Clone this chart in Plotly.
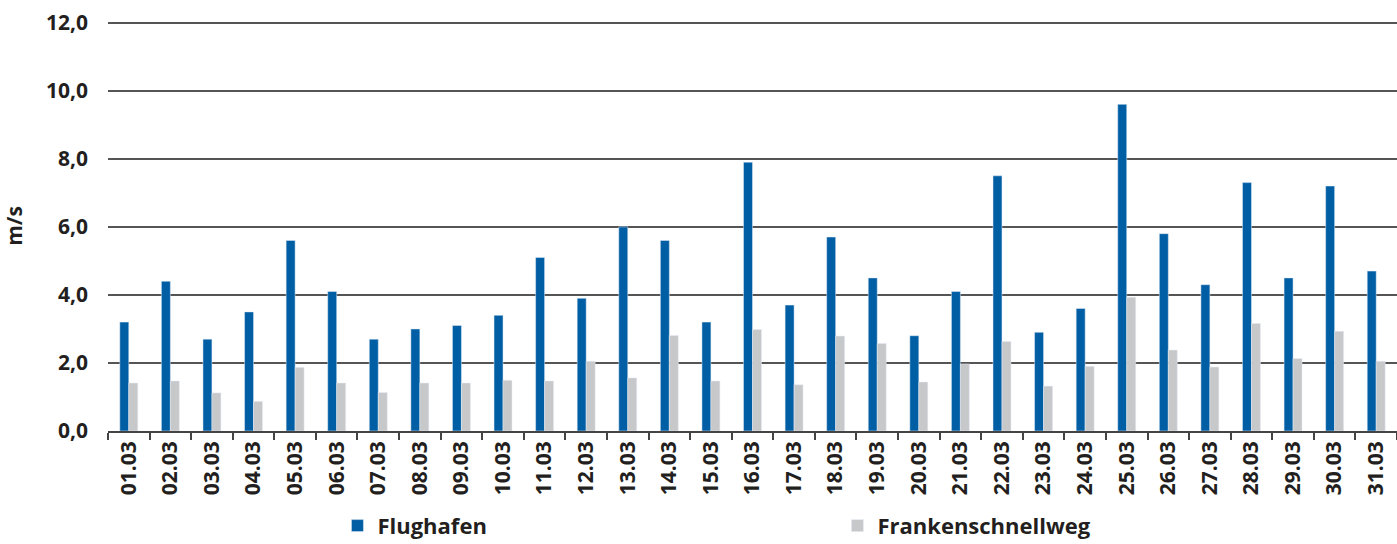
import plotly.graph_objects as go

days = [f"{d:02d}.03" for d in range(1, 32)]

flughafen = [3.2, 4.4, 2.7, 3.5, 5.6, 4.1, 2.7, 3.0, 3.1, 3.4, 5.1, 3.9, 6.0, 5.6, 3.2, 7.9,
             3.7, 5.7, 4.5, 2.8, 4.1, 7.5, 2.9, 3.6, 9.6, 5.8, 4.3, 7.3, 4.5, 7.2, 4.7]
frankenschnellweg = [1.41, 1.47, 1.12, 0.87, 1.87, 1.41, 1.13, 1.41, 1.41, 1.49, 1.47, 2.05,
                     1.56, 2.81, 1.47, 2.98, 1.36, 2.79, 2.57, 1.44, 1.97, 2.63, 1.32, 1.90,
                     3.93, 2.38, 1.88, 3.16, 2.13, 2.93, 2.05]

font = "Open Sans"

fig = go.Figure()
fig.add_bar(x=days, y=flughafen, name="Flughafen", marker_color="#005EA4")
fig.add_bar(x=days, y=frankenschnellweg, name="Frankenschnellweg", marker_color="#C7C8CA")

fig.update_layout(
    width=1397,
    height=544,
    margin=dict(l=108, r=0, t=21, b=113, autoexpand=False),
    paper_bgcolor="white",
    plot_bgcolor="white",
    separators=",.",
    barmode="group",
    bargap=0.568,
    bargroupgap=0,
    font=dict(family=font, size=21, color="#231F20", weight="bold"),
    showlegend=True,
    legend=dict(
        orientation="h",
        x=0.178,
        xanchor="left",
        y=-0.18,
        yanchor="top",
        entrywidth=455,
        itemwidth=30,
        font=dict(size=22, weight="bold"),
    ),
)
fig.update_xaxes(
    type="category",
    tickangle=-90,
    automargin=False,
    showline=True,
    linecolor="#444",
    linewidth=1.5,
    ticks="outside",
    tickson="boundaries",
    ticklen=7,
    tickcolor="#444",
    tickwidth=1.5,
    showgrid=False,
    tickfont=dict(size=21, weight="bold"),
)
fig.update_yaxes(
    range=[0, 12.05],
    dtick=2,
    tickformat=".1f",
    automargin=False,
    showgrid=True,
    gridcolor="#555",
    gridwidth=1.5,
    zeroline=False,
    ticks="",
    ticklabelstandoff=19,
    title=dict(text="m/s", standoff=26, font=dict(size=21, weight="bold")),
    tickfont=dict(size=21, weight="bold"),
)

# page has a default 8px body margin, drop it so the figure fills the window
fig.write_html(
    "out.html",
    config={"displayModeBar": False},
    post_script="document.body.style.margin='0';document.body.style.overflow='hidden';",
)
